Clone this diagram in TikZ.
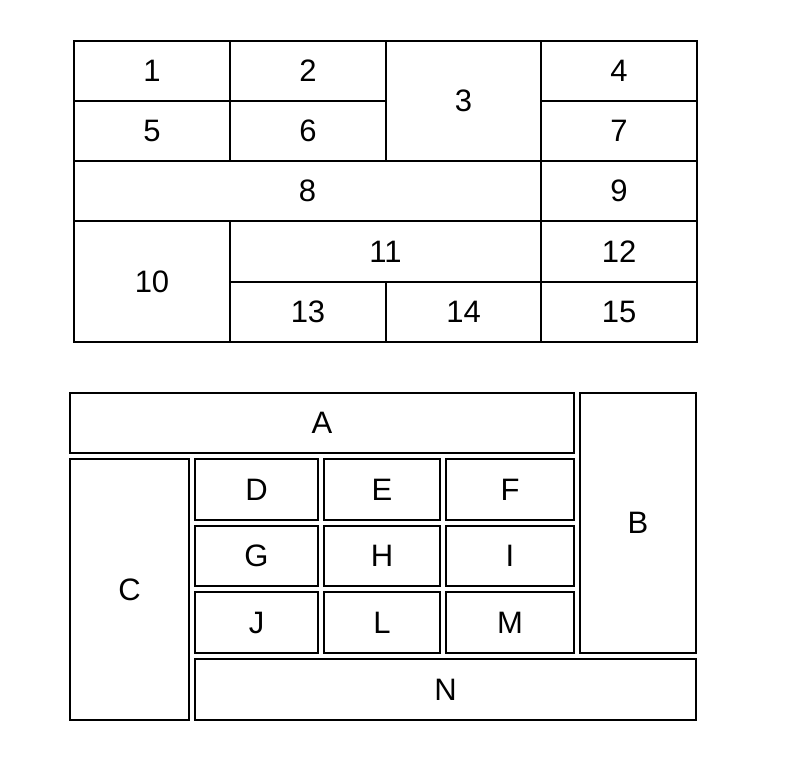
\documentclass[tikz,border=0pt]{standalone}
\usepackage{fontspec}
\setmainfont{Liberation Sans}
\usetikzlibrary{positioning}

\tikzset{
  cell/.style={draw, line width=1.5pt, inner sep=0pt,
    font=\fontsize{31}{31}\selectfont}
}

\begin{document}
\begin{tikzpicture}[x=1pt,y=-1pt]
  \useasboundingbox (0,0) rectangle (800,771);
  % top table
  \node[cell, minimum width=156, minimum height=60]  (n1)  at (152,71)      {1};
  \node[cell, minimum width=156, minimum height=60]  (n2)  at (308,71)      {2};
  \node[cell, minimum width=155, minimum height=120] (n3)  at (463.5,101)   {3};
  \node[cell, minimum width=156, minimum height=60]  (n4)  at (619,71)      {4};
  \node[cell, minimum width=156, minimum height=60]  (n5)  at (152,131)     {5};
  \node[cell, minimum width=156, minimum height=60]  (n6)  at (308,131)     {6};
  \node[cell, minimum width=156, minimum height=60]  (n7)  at (619,131)     {7};
  \node[cell, minimum width=467, minimum height=60]  (n8)  at (307.5,191)   {8};
  \node[cell, minimum width=156, minimum height=60]  (n9)  at (619,191)     {9};
  \node[cell, minimum width=156, minimum height=121] (n10) at (152,281.5)   {10};
  \node[cell, minimum width=311, minimum height=61]  (n11) at (385.5,251.5) {11};
  \node[cell, minimum width=156, minimum height=61]  (n12) at (619,251.5)   {12};
  \node[cell, minimum width=156, minimum height=60]  (n13) at (308,312)     {13};
  \node[cell, minimum width=155, minimum height=60]  (n14) at (463.5,312)   {14};
  \node[cell, minimum width=156, minimum height=60]  (n15) at (619,312)     {15};
  % bottom boxes
  \node[cell, minimum width=504, minimum height=60]  (A) at (322,423)     {A};
  \node[cell, minimum width=116, minimum height=260] (B) at (638,523)     {B};
  \node[cell, minimum width=119, minimum height=261] (C) at (129.5,589.5) {C};
  \node[cell, minimum width=123, minimum height=61]  (D) at (256.5,489.5) {D};
  \node[cell, minimum width=116, minimum height=61]  (E) at (382,489.5)   {E};
  \node[cell, minimum width=128, minimum height=61]  (F) at (510,489.5)   {F};
  \node[cell, minimum width=123, minimum height=60]  (G) at (256.5,556)   {G};
  \node[cell, minimum width=116, minimum height=60]  (H) at (382,556)     {H};
  \node[cell, minimum width=128, minimum height=60]  (I) at (510,556)     {I};
  \node[cell, minimum width=123, minimum height=61]  (J) at (256.5,622.5) {J};
  \node[cell, minimum width=116, minimum height=61]  (L) at (382,622.5)   {L};
  \node[cell, minimum width=128, minimum height=61]  (M) at (510,622.5)   {M};
  \node[cell, minimum width=501, minimum height=61]  (N) at (445.5,689.5) {N};
\end{tikzpicture}
\end{document}
